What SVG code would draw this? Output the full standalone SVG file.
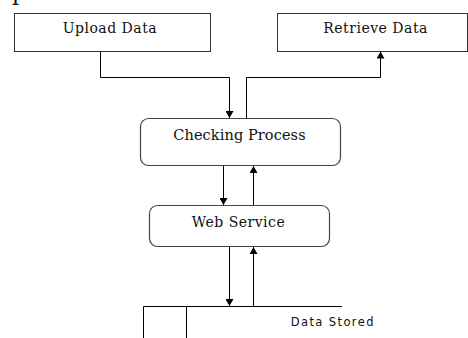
<svg xmlns="http://www.w3.org/2000/svg" width="468" height="338" viewBox="0 0 468 338">
  <style>
    .box { fill: #ffffff; stroke: #333333; stroke-width: 1; }
    .rbox { fill: #ffffff; stroke: #444444; stroke-width: 1.2; }
    .lbl { font-family: "DejaVu Serif", "Liberation Serif", serif; font-size: 14px; fill: #111111; letter-spacing: 0.5px; }
    .lbl-sans { font-family: "DejaVu Sans", Verdana, sans-serif; font-size: 11.5px; fill: #111111; letter-spacing: 1.4px; }
    .wire { fill: none; stroke: #000000; stroke-width: 1; }
    .arrow { marker-end: url(#head); }
  </style>
  <defs>
    <marker id="head" markerUnits="userSpaceOnUse" markerWidth="8" markerHeight="8" refX="7" refY="4" orient="auto">
      <path d="M0,0 L7,4 L0,8 z" fill="#000000"/>
    </marker>
  </defs>
  <rect width="468" height="338" fill="#ffffff"/>

  <!-- heading fragment at the top edge -->
  <text x="12" y="0" class="lbl" style="font-size:22px;letter-spacing:0">p</text>

  <g id="upload-data">
    <rect class="box" x="14.5" y="13.5" width="196" height="38"/>
    <text class="lbl" x="62.7" y="32.5">Upload Data</text>
  </g>

  <g id="retrieve-data">
    <rect class="box" x="277.5" y="13.5" width="190" height="38"/>
    <text class="lbl" x="323.3" y="32.5">Retrieve Data</text>
  </g>

  <g id="checking-process">
    <rect class="rbox" x="140.5" y="118.5" width="200" height="47" rx="8" ry="8"/>
    <text class="lbl" x="173.3" y="140" style="letter-spacing:0.1px;font-size:14.5px">Checking Process</text>
  </g>

  <g id="web-service">
    <rect class="rbox" x="149.5" y="205.5" width="180" height="41" rx="8" ry="8"/>
    <text class="lbl" x="191.7" y="226.5">Web Service</text>
  </g>

  <g id="data-stored">
    <path class="wire" d="M143.5,338 V306.5 H342 M186.5,306.5 V338"/>
    <text class="lbl-sans" x="290.7" y="326">Data Stored</text>
  </g>

  <g id="connectors">
    <path class="wire arrow" d="M100.5,51.5 V77.5 H229.5 V118"/>
    <path class="wire arrow" d="M246.5,118.5 V77.5 H380.5 V51.5"/>
    <path class="wire arrow" d="M223.5,166 V205"/>
    <path class="wire arrow" d="M253.5,205 V166"/>
    <path class="wire arrow" d="M229.5,247 V306"/>
    <path class="wire arrow" d="M253.5,306 V247"/>
  </g>
</svg>
